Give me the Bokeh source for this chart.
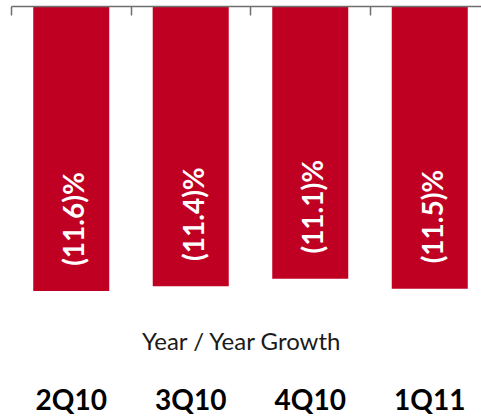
from bokeh.plotting import figure
from bokeh.models import Range1d, ColumnDataSource, FixedTicker
from bokeh.core.properties import value
from bokeh.embed import file_html
from bokeh.resources import INLINE
import math

categories = ["2Q10", "3Q10", "4Q10", "1Q11"]
growth = [-11.6, -11.4, -11.1, -11.5]
bar_labels = ["(11.6)%", "(11.4)%", "(11.1)%", "(11.5)%"]
axis_title = "Year / Year Growth"

xs = [i + 0.5 for i in range(len(categories))]
src = ColumnDataSource(dict(
    x=xs, top=[0] * len(growth), bottom=growth,
    lab=bar_labels, ly=[g + 2.94 for g in growth], cat=categories,
    cy=[-16.0] * len(categories),
))

W, H = 481, 416
p = figure(width=W, height=H, output_backend="svg", toolbar_location=None,
           x_range=Range1d(0, 470 / 119.5), y_range=Range1d(-16.71, 0),
           x_axis_location="above", y_axis_location=None,
           min_border_left=11, min_border_right=0, min_border_top=6, min_border_bottom=0)
p.outline_line_color = None
p.grid.visible = False
p.background_fill_color = "white"

ax = p.xaxis[0]
ax.ticker = FixedTicker(ticks=[0, 1, 2, 3])
ax.major_label_overrides = {0: "", 1: "", 2: "", 3: ""}
ax.major_label_standoff = 0
ax.major_tick_in = 9
ax.major_tick_out = 0
ax.minor_tick_in = 0
ax.minor_tick_out = 0
ax.axis_line_color = "#6f6f6f"
ax.axis_line_width = 1.5
ax.major_tick_line_color = "#6f6f6f"
ax.major_tick_line_width = 1.5

p.vbar(x="x", top="top", bottom="bottom", width=0.636, source=src,
       fill_color="#C00023", line_color=None)

p.text(x="x", y="ly", text="lab", source=src, angle=math.pi / 2,
       x_offset=2,
       text_align="center", text_baseline="middle", text_color="white",
       text_font=value("Lato"), text_font_style="bold", text_font_size="28px")

p.text(x="x", y="cy", text="cat", source=src,
       text_align="center", text_baseline="middle", text_color="black",
       text_font=value("Lato"), text_font_style="bold", text_font_size="28px")

p.text(x=[1.93], y=[-13.61], text=[axis_title],
       text_align="center", text_baseline="middle", text_color="#1a1a1a",
       text_font=value("Lato"), text_font_size="24px")

open("out.html", "w").write(file_html(p, INLINE))
